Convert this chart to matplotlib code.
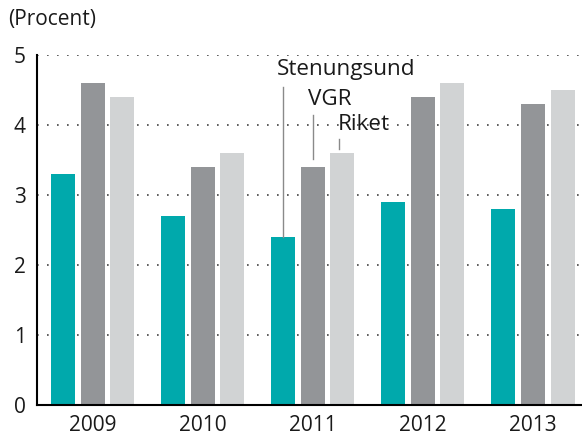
import matplotlib
matplotlib.use("Agg")
import matplotlib.pyplot as plt
import numpy as np

years = ["2009", "2010", "2011", "2012", "2013"]
series_names = ["Stenungsund", "VGR", "Riket"]
stenungsund = [3.3, 2.7, 2.4, 2.9, 2.8]
vgr = [4.6, 3.4, 3.4, 4.4, 4.3]
riket = [4.4, 3.6, 3.6, 4.6, 4.5]
yticks = [0, 1, 2, 3, 4, 5]

colors = ["#00A9AC", "#939598", "#D1D3D4"]

plt.rcParams['font.family'] = ['Open Sans', 'DejaVu Sans']

fig = plt.figure(figsize=(5.82, 4.41), dpi=100)
ax = fig.add_axes([37/582, 1 - 405/441, 1 - 37/582, (405 - 55)/441])

x = np.arange(len(years))
pitch = 0.268
width = 0.218
for i, (vals, c) in enumerate(zip([stenungsund, vgr, riket], colors)):
    ax.bar(x + (i - 1) * pitch, vals, width=width, color=c, zorder=3)

ax.set_xlim(-0.505, 4.445)
ax.set_ylim(0, 5)
ax.set_yticks(yticks)
ax.set_xticks(x)
ax.set_xticklabels(years)
ax.tick_params(axis='both', length=0, labelsize=15, colors='#1a1a1a')
ax.tick_params(axis='y', pad=8)
ax.tick_params(axis='x', pad=7)

for y in yticks[1:]:
    ax.axhline(y, color='#444444', linestyle=(0, (1, 5)), linewidth=1.2, zorder=1)

for s in ['top', 'right']:
    ax.spines[s].set_visible(False)
ax.spines['left'].set_linewidth(1.5)
ax.spines['bottom'].set_linewidth(1.5)
ax.spines['left'].set_zorder(4)
ax.spines['bottom'].set_zorder(4)

fig.text(8/582, 1 - 20/441, "(Procent)", fontsize=15, va='center', ha='left', color='#1a1a1a')

# annotations for 2011 group
gi = 2
lc = '#8a8a8a'
fs = 16.2
ax.text(gi - 0.325, 4.79, series_names[0], fontsize=fs, va='center', ha='left', color='#1a1a1a', zorder=5)
ax.plot([gi - pitch, gi - pitch], [4.54, stenungsund[gi]], color=lc, linewidth=1.0, zorder=5)
ax.text(gi - 0.045, 4.36, series_names[1], fontsize=fs, va='center', ha='left', color='#1a1a1a', zorder=5)
ax.plot([gi, gi], [4.14, vgr[gi] + 0.12], color=lc, linewidth=1.0, zorder=5)
ax.text(gi + 0.23, 4.01, series_names[2], fontsize=fs, va='center', ha='left', color='#1a1a1a', zorder=2)
ax.plot([gi + pitch - 0.03, gi + pitch - 0.03], [3.8, 3.66], color=lc, linewidth=1.0, zorder=5)

fig.savefig("out.png", dpi=100)
